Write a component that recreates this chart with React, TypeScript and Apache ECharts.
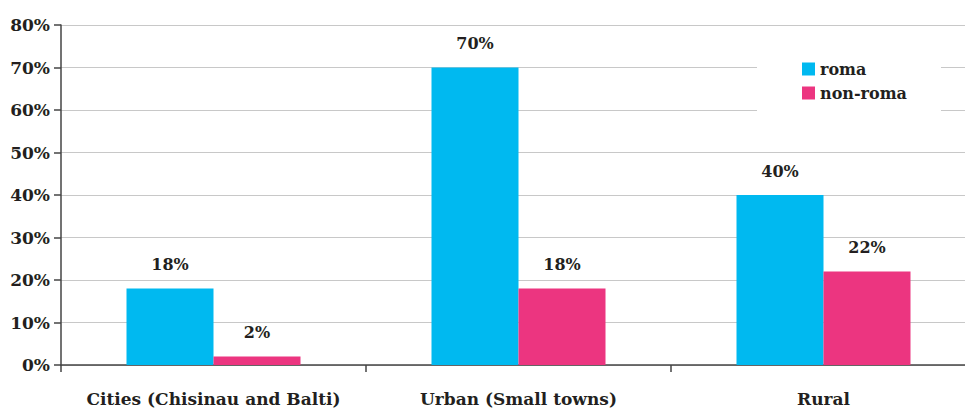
import React, { useEffect, useRef } from "react";
import * as echarts from "echarts";

// Share of households by settlement type, roma vs non-roma
const categories = ["Cities (Chisinau and Balti)", "Urban (Small towns)", "Rural"];
const romaValues = [18, 70, 40];
const nonRomaValues = [2, 18, 22];
const seriesNames = ["roma", "non-roma"];
const yMin = 0;
const yMax = 80;
const yStep = 10;

const FONT = "'DejaVu Serif', serif";
const INK = "#231f20";
const AXIS = "#444444";

export default function App() {
  const ref = useRef<HTMLDivElement>(null);

  useEffect(() => {
    if (!ref.current) return;
    const chart = echarts.init(ref.current, undefined, { renderer: "svg" });
    const labelStyle = {
      show: true,
      position: "top" as const,
      distance: 16,
      formatter: "{c}%",
      color: INK,
      fontFamily: FONT,
      fontWeight: "bold" as const,
      fontSize: 16,
    };
    chart.setOption({
      animation: false,
      backgroundColor: "#ffffff",
      grid: {
        left: 61,
        top: 25,
        height: 340,
        width: 915,
        containLabel: false,
        outerBoundsMode: "none",
      },
      legend: {
        data: seriesNames,
        orient: "vertical",
        left: 757,
        top: 49,
        backgroundColor: "#ffffff",
        padding: [12, 34, 18, 45],
        itemWidth: 13,
        itemHeight: 13,
        itemGap: 8,
        icon: "rect",
        textStyle: { color: INK, fontFamily: FONT, fontWeight: "bold", fontSize: 16 },
      },
      xAxis: {
        type: "category",
        data: categories,
        axisLine: { show: true, lineStyle: { color: AXIS, width: 1.5 } },
        axisTick: { show: true, length: 7, lineStyle: { color: AXIS, width: 1.5 } },
        axisLabel: {
          margin: 25,
          color: INK,
          fontFamily: FONT,
          fontWeight: "bold",
          fontSize: 17,
          interval: 0,
        },
      },
      yAxis: {
        type: "value",
        min: yMin,
        max: yMax,
        interval: yStep,
        axisLine: { show: true, lineStyle: { color: AXIS, width: 1.5 } },
        axisTick: { show: true, length: 7, lineStyle: { color: AXIS, width: 1.5 } },
        splitLine: { show: true, lineStyle: { color: "#c8c8c8", width: 1.2 } },
        axisLabel: {
          formatter: "{value}%",
          margin: 11,
          color: INK,
          fontFamily: FONT,
          fontWeight: "bold",
          fontSize: 17,
        },
      },
      series: [
        {
          name: seriesNames[0],
          type: "bar",
          data: romaValues,
          barWidth: 87,
          barGap: "0%",
          itemStyle: { color: "#00b9f0" },
          label: labelStyle,
        },
        {
          name: seriesNames[1],
          type: "bar",
          data: nonRomaValues,
          barWidth: 87,
          barGap: "0%",
          itemStyle: { color: "#ec3580" },
          label: labelStyle,
        },
      ],
    });
    return () => chart.dispose();
  }, []);

  return (
    <div
      ref={ref}
      style={{ position: "fixed", left: 0, top: 0, width: 965, height: 411 }}
    />
  );
}
